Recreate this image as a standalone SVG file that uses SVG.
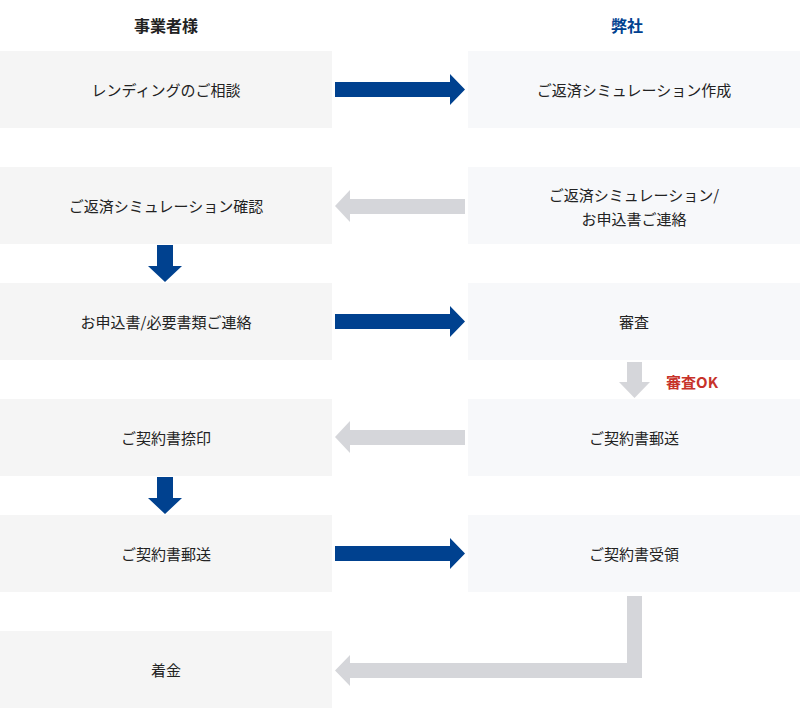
<svg xmlns="http://www.w3.org/2000/svg" width="800" height="716" viewBox="0 0 800 716">
<style>
.bl{fill:#f5f5f5}.br{fill:#f7f8fa}
text{font-family:"Noto Sans CJK JP","Noto Sans",sans-serif;font-size:15px;fill:#222;text-anchor:middle;dominant-baseline:central}
.h{font-weight:bold;font-size:16px}
.blue{fill:#00418f}.gray{fill:#d5d6da}
</style>
<rect width="800" height="716" fill="#fff"/>
<text class="h" x="166" y="25">事業者様</text>
<text class="h" x="627" y="25" style="fill:#00418f">弊社</text>
<g id="l1"><rect class="bl" x="0" y="51" width="332" height="77"/><text x="166" y="89.5">レンディングのご相談</text></g>
<g id="r1"><rect class="br" x="468" y="51" width="332" height="77"/><text x="634" y="89.5">ご返済シミュレーション作成</text></g>
<g id="l2"><rect class="bl" x="0" y="167" width="332" height="77"/><text x="166" y="205.5">ご返済シミュレーション確認</text></g>
<g id="r2"><rect class="br" x="468" y="167" width="332" height="77"/><text x="634" y="194">ご返済シミュレーション/</text><text x="634" y="218">お申込書ご連絡</text></g>
<g id="l3"><rect class="bl" x="0" y="283" width="332" height="77"/><text x="166" y="321.5">お申込書/必要書類ご連絡</text></g>
<g id="r3"><rect class="br" x="468" y="283" width="332" height="77"/><text x="634" y="321.5">審査</text></g>
<g id="l4"><rect class="bl" x="0" y="399" width="332" height="77"/><text x="166" y="437.5">ご契約書捺印</text></g>
<g id="r4"><rect class="br" x="468" y="399" width="332" height="77"/><text x="634" y="437.5">ご契約書郵送</text></g>
<g id="l5"><rect class="bl" x="0" y="515" width="332" height="77"/><text x="166" y="553.5">ご契約書郵送</text></g>
<g id="r5"><rect class="br" x="468" y="515" width="332" height="77"/><text x="634" y="553.5">ご契約書受領</text></g>
<g id="l6"><rect class="bl" x="0" y="631" width="332" height="77"/><text x="166" y="669.5">着金</text></g>
<g id="connectors">
<polygon class="blue" points="335,82 450,82 450,74 465,89.5 450,105 450,97 335,97"/>
<polygon class="blue" points="335,314 450,314 450,306 465,321.5 450,337 450,329 335,329"/>
<polygon class="blue" points="335,546 450,546 450,538 465,553.5 450,569 450,561 335,561"/>
<polygon class="gray" points="465,199 350,199 350,190 335,206 350,222 350,214 465,214"/>
<polygon class="gray" points="465,430 350,430 350,421 335,437 350,453 350,445 465,445"/>
<polygon class="blue" points="157,245 173,245 173,266 182,266 165,282 148,266 157,266"/>
<polygon class="blue" points="157,477 173,477 173,498 182,498 165,514 148,498 157,498"/>
<polygon class="gray" points="627,362 642,362 642,382 650,382 634.5,398 619,382 627,382"/>
<polygon class="gray" points="627,596 642,596 642,678 350,678 350,686 335,670.5 350,655 350,663 627,663"/>
<text x="692" y="381" style="fill:#c7322a;font-weight:bold;font-size:15px">審査OK</text>
</g>
</svg>
